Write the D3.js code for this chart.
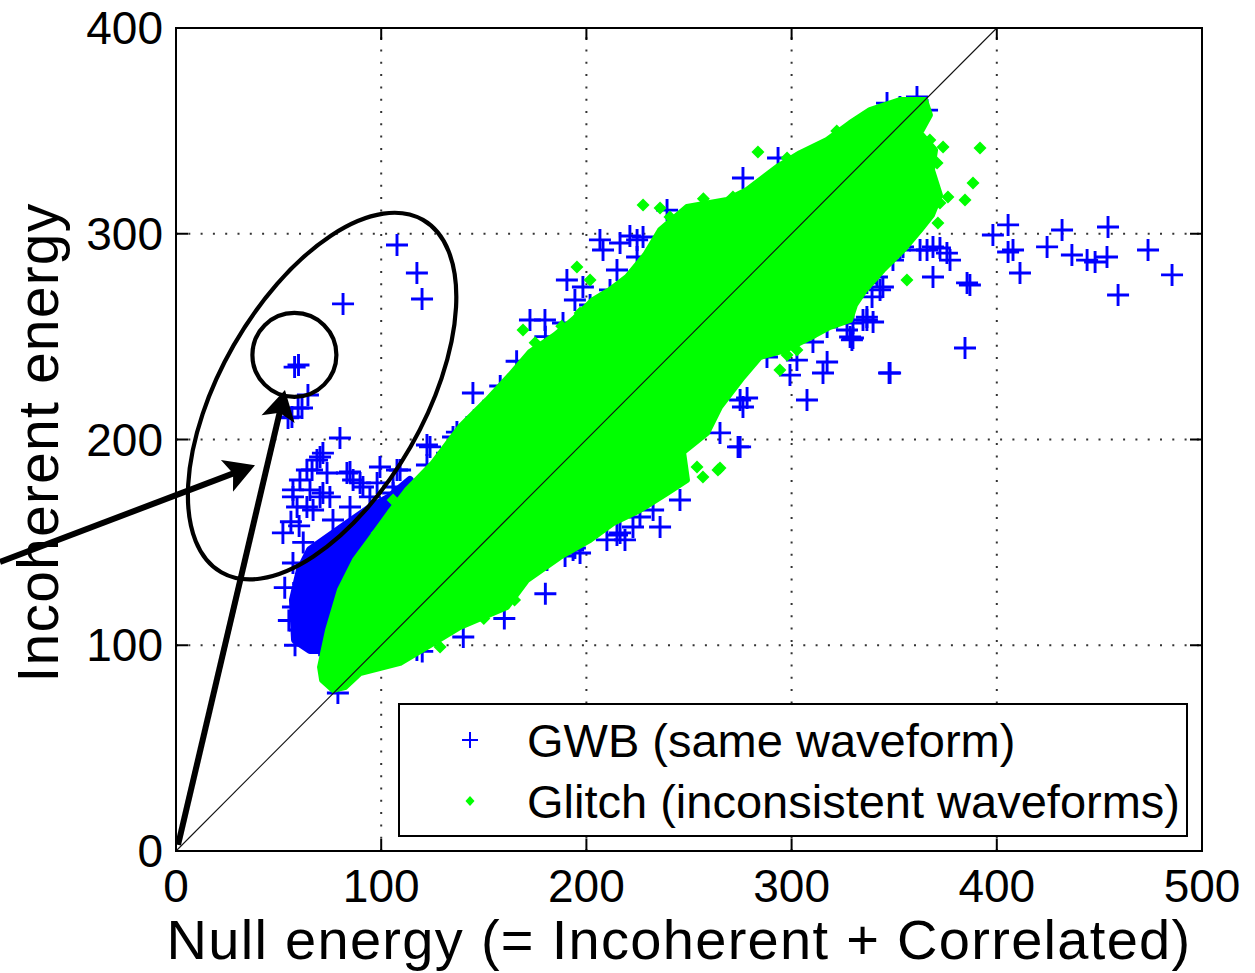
<!DOCTYPE html>
<html>
<head>
<meta charset="utf-8">
<script src="https://cdn.jsdelivr.net/npm/d3@7/dist/d3.min.js"></script>
<style>
  body { margin: 0; background: #fff; }
  text { font-family: "Liberation Sans", Arial, Helvetica, sans-serif; fill: #000; }
</style>
</head>
<body>
<svg id="chart" width="1255" height="973"></svg>
<script>
// ---- axis ticks ----
const xTicks = [0, 100, 200, 300, 400, 500];
const yTicks = [0, 100, 200, 300, 400];
const xLabel = "Null energy (= Incoherent + Correlated)";
const yLabel = "Incoherent energy";
const legendLabels = ["GWB (same waveform)", "Glitch (inconsistent waveforms)"];

// ---- GWB events: [null energy, incoherent energy] ----
const gwbPoints = [
  // upper-left outliers
  [107.7, 294.5], [117.4, 280.9], [119.9, 268.3], [81.4, 265.9], [57.8, 235.2], [59.7, 236.2],
  [64.3, 221.6], [59.5, 215.3], [54.6, 210.5], [56.5, 210.9], [61.4, 215.3], [79.9, 200.7],
  [144.7, 222.6], [136.9, 203.6], [141.8, 206.1], [135.0, 201.2],
  [122.3, 197.3], [122.3, 187.6], [132.1, 193.4], [133.5, 193.4], [123.8, 196.4],
  [99.4, 186.6], [107.7, 185.2], [109.2, 185.2], [71.6, 193.4], [68.7, 190.0], [70.2, 191.5],
  [63.8, 185.2], [66.3, 185.2], [73.6, 183.7], [83.3, 183.7], [84.8, 184.2], [86.3, 180.3],
  [89.7, 178.9], [91.1, 176.9], [98.0, 178.9], [105.8, 174.0], [105.8, 176.9], [94.5, 172.1],
  [57.0, 175.5], [65.3, 175.5], [70.2, 172.1], [75.0, 172.1], [71.6, 174.0], [60.4, 180.3],
  [57.0, 172.1], [59.0, 167.2], [63.8, 167.2], [66.8, 165.7], [52.1, 154.6], [76.5, 160.9],
  [84.8, 167.2], [150.0, 214.0], [158.0, 226.0], [166.0, 238.0],
  // left cluster
  [57.0, 118.6], [60.4, 107.4], [65.3, 106.0], [73.6, 107.4], [78.5, 112.3], [61.9, 126.9],
  [55.0, 112.0], [58.0, 100.0], [62.0, 130.0], [68.0, 118.0], [72.0, 125.0], [57.0, 140.0],
  [62.0, 150.0], [66.0, 138.0], [70.0, 145.0], [53.0, 128.0], [60.0, 158.0], [56.0, 160.0],
  [63.0, 110.0], [70.0, 100.0], [78.9, 76.8], [117.4, 97.7], [120.0, 97.0], [140.0, 104.0],
  // along the top of the band
  [276.3, 327.1], [293.4, 336.8], [190.5, 277.5], [198.3, 274.1], [208.1, 292.1], [216.4, 295.5],
  [224.7, 297.0], [227.6, 298.4], [214.9, 282.4], [224.7, 288.7], [232.5, 285.8], [211.5, 272.7],
  [219.8, 271.2], [203.2, 254.7], [188.6, 256.6], [239.3, 311.5], [300.7, 329.5], [310.4, 332.4],
  [325.0, 344.1], [206.6, 297.0], [221.2, 298.9], [213.9, 267.8], [201.8, 265.4], [194.4, 267.8],
  [179.8, 258.1], [172.5, 258.1], [180.0, 250.0],
  [361.1, 366.5], [352.8, 361.6], [343.1, 356.7], [333.3, 349.0], [366.0, 360.1], [346.5, 363.5],
  // right-hand outliers
  [405.5, 304.3], [398.1, 299.4], [405.5, 291.1], [407.9, 292.1], [411.3, 280.9], [385.5, 276.1],
  [368.9, 279.0], [362.6, 292.1], [368.9, 293.6], [375.7, 290.6], [372.3, 293.1], [377.2, 287.2],
  [352.8, 292.1], [349.4, 287.2], [341.6, 279.0], [343.1, 272.7], [336.7, 276.1], [336.7, 259.5],
  [329.9, 256.6], [328.5, 249.8], [334.8, 258.1], [329.4, 248.4], [339.2, 269.3], [344.5, 274.1],
  [354.3, 293.6], [366.0, 292.1], [384.5, 244.5], [347.5, 232.3], [431.8, 301.8], [424.5, 293.6],
  [436.6, 289.7], [444.0, 287.2], [447.9, 286.3], [453.7, 288.7], [454.2, 303.3], [485.4, 280.0],
  [473.7, 292.1], [459.1, 270.2], [386.9, 275.1],
  // along the lower edge of the band
  [307.5, 219.2], [278.3, 220.2], [276.3, 215.8], [265.1, 203.2], [274.9, 196.4], [245.6, 170.6],
  [235.9, 157.5], [232.5, 165.7], [226.1, 162.3], [222.7, 157.5], [216.4, 154.6], [210.0, 151.2],
  [193.5, 146.3], [180.8, 141.4], [348.0, 232.3], [317.3, 237.7], [315.3, 232.3], [299.2, 231.3],
  [302.6, 238.6], [288.0, 240.1], [274.9, 219.2], [273.9, 196.4], [327.0, 253.2], [329.9, 249.3],
  [336.7, 258.1], [339.7, 257.1], [310.4, 247.4], [317.3, 254.7], [323.6, 262.9],
  [214.9, 153.6], [218.8, 151.2], [194.4, 147.3], [196.9, 144.8], [189.6, 143.4],
  [160.0, 113.0], [180.0, 125.0]
];

// dense GWB patch left of the glitch band (outline)
const gwbDenseOutline = [
  [58.0, 102.6], [57.0, 122.0], [60.4, 136.6], [65.3, 146.3], [73.6, 152.1], [83.3, 158.9],
  [94.5, 166.7], [104.3, 172.1], [114.0, 180.3], [99.4, 141.4], [82.4, 112.3], [75.0, 97.7],
  [65.3, 97.7]
];

// dense core of the glitch events (outline)
const glitchOutline = [
  [76.5, 78.3], [71.2, 83.1], [70.2, 89.4], [74.1, 107.4], [79.9, 126.9], [87.2, 141.4],
  [94.5, 151.2], [104.3, 164.8], [112.6, 175.5], [125.2, 188.6], [138.4, 206.1], [151.6, 219.2],
  [162.8, 231.3], [172.5, 242.5], [184.7, 250.8], [194.4, 259.1], [203.2, 267.8], [211.5, 272.7],
  [219.8, 279.0], [228.6, 289.7], [235.9, 301.8], [249.0, 313.0], [268.5, 316.4], [278.3, 321.3],
  [292.9, 332.4], [304.1, 339.2], [317.3, 345.6], [328.5, 353.8], [338.2, 360.1], [352.8, 365.0],
  [365.0, 365.0], [367.4, 357.7], [362.6, 349.0], [369.9, 340.7], [368.4, 331.0], [372.3, 318.8],
  [368.4, 309.1], [362.6, 301.8], [355.3, 293.1], [344.5, 282.4], [335.8, 272.7], [330.9, 265.4],
  [328.5, 258.1], [318.7, 254.7], [311.4, 250.8], [296.8, 243.5], [284.6, 240.1], [276.3, 230.4],
  [265.1, 215.8], [258.8, 203.2], [247.1, 193.9], [249.0, 180.3], [239.3, 174.0], [226.1, 165.7],
  [213.0, 159.4], [201.8, 151.2], [187.1, 142.9], [171.1, 131.7], [161.3, 118.6], [138.4, 108.9],
  [122.3, 99.2], [109.2, 91.4], [89.7, 86.5], [82.4, 79.7]
];

// scattered glitch events at the fringe of the band
const glitchPoints = [
  [391.8, 341.7], [388.4, 324.7], [384.5, 316.4], [376.2, 317.9], [372.3, 314.9], [371.3, 305.2],
  [373.8, 342.2], [367.4, 345.6], [370.9, 334.4], [356.2, 277.5], [297.8, 241.1], [302.6, 243.5],
  [294.3, 233.8], [264.1, 185.2], [256.8, 181.8], [253.9, 186.6], [265.1, 186.1], [227.6, 314.0],
  [235.9, 312.5], [240.7, 308.1], [271.4, 317.9], [283.6, 339.7], [297.8, 336.8], [309.0, 339.2],
  [315.3, 342.2], [195.4, 283.8], [201.8, 277.5], [196.9, 261.5], [169.1, 253.2], [101.9, 157.5],
  [105.8, 170.6], [143.3, 209.5], [153.0, 217.7], [98.0, 154.6], [94.5, 147.8], [128.7, 99.2],
  [165.0, 122.0], [150.0, 113.0], [175.0, 247.0], [188.0, 255.0], [257.0, 317.0], [322.0, 350.0]
];

// annotation shapes, positioned in data units
const bigEllipse = { center: [71.2, 221.1], rx: 102, ry: 203, angle: 29.8 };
const smallCircle = { center: [57.7, 241.1], r: 42 };
const arrows = [
  { from: [1.0, 3.0], to: [53.1, 224.1] },
  { from: [-85.8, 140.5], to: [38.5, 187.5] }
];

// ---- layout ----
const svg = d3.select("#chart");
const W = 1255, H = 973;
const plot = { left: 176, right: 1202, top: 28, bottom: 851 };

const x = d3.scaleLinear().domain([0, 500]).range([plot.left, plot.right]);
const y = d3.scaleLinear().domain([0, 400]).range([plot.bottom, plot.top]);

svg.append("rect").attr("width", W).attr("height", H).attr("fill", "#fff");

// dotted grid
const grid = svg.append("g").attr("stroke", "#333").attr("stroke-width", 2)
  .attr("stroke-dasharray", "2 10.3").attr("fill", "none");
grid.selectAll("line.vx").data(xTicks.filter(d => d > 0 && d < 500)).join("line")
  .attr("x1", d => x(d)).attr("x2", d => x(d)).attr("y1", plot.bottom).attr("y2", plot.top);
grid.selectAll("line.hy").data(yTicks.filter(d => d > 0 && d < 400)).join("line")
  .attr("y1", d => y(d)).attr("y2", d => y(d)).attr("x1", plot.left).attr("x2", plot.right);

// GWB markers (plotted first, underneath the glitches)
const crossPath = "M-11,0H11M0,-11V11";
svg.append("path")
  .attr("d", d3.line().x(d => x(d[0])).y(d => y(d[1]))(gwbDenseOutline) + "Z")
  .attr("fill", "#0000ff").attr("stroke", "#0000ff").attr("stroke-width", 8)
  .attr("stroke-linejoin", "round");
svg.append("g").selectAll("path").data(gwbPoints).join("path")
  .attr("transform", d => `translate(${x(d[0])},${y(d[1])})`)
  .attr("d", crossPath).attr("stroke", "#0000ff").attr("stroke-width", 2.9).attr("fill", "none");

// glitch markers
svg.append("path")
  .attr("d", d3.line().x(d => x(d[0])).y(d => y(d[1]))(glitchOutline) + "Z")
  .attr("fill", "#00ff00").attr("stroke", "#00ff00").attr("stroke-width", 6)
  .attr("stroke-linejoin", "round");
const diamondPath = "M0,-6.5L6.5,0L0,6.5L-6.5,0Z";
svg.append("g").selectAll("path").data(glitchPoints).join("path")
  .attr("transform", d => `translate(${x(d[0])},${y(d[1])})`)
  .attr("d", diamondPath).attr("fill", "#00ff00");

// identity line
svg.append("line")
  .attr("x1", x(0)).attr("y1", y(0)).attr("x2", x(400)).attr("y2", y(400))
  .attr("stroke", "#111").attr("stroke-width", 1.1);

// axes box and inward ticks on all four sides
const axes = svg.append("g").attr("stroke", "#000").attr("stroke-width", 2);
axes.append("rect").attr("x", plot.left).attr("y", plot.top)
  .attr("width", plot.right - plot.left).attr("height", plot.bottom - plot.top).attr("fill", "none");
const tl = 12;
xTicks.forEach(t => {
  axes.append("line").attr("x1", x(t)).attr("x2", x(t)).attr("y1", plot.bottom).attr("y2", plot.bottom - tl);
  axes.append("line").attr("x1", x(t)).attr("x2", x(t)).attr("y1", plot.top).attr("y2", plot.top + tl);
});
yTicks.forEach(t => {
  axes.append("line").attr("y1", y(t)).attr("y2", y(t)).attr("x1", plot.left).attr("x2", plot.left + tl);
  axes.append("line").attr("y1", y(t)).attr("y2", y(t)).attr("x1", plot.right).attr("x2", plot.right - tl);
});

// tick labels
svg.append("g").selectAll("text").data(xTicks).join("text")
  .attr("x", d => x(d)).attr("y", plot.bottom + 51)
  .attr("text-anchor", "middle").attr("font-size", 46).text(d => d);
svg.append("g").selectAll("text").data(yTicks).join("text")
  .attr("x", plot.left - 13).attr("y", d => y(d) + 16)
  .attr("text-anchor", "end").attr("font-size", 46).text(d => d);

// axis labels
svg.append("text").attr("x", (plot.left + plot.right) / 2 - 10).attr("y", 959)
  .attr("text-anchor", "middle").attr("font-size", 56).attr("letter-spacing", 1.3).text(xLabel);
svg.append("text").attr("transform", `translate(58,${(plot.top + plot.bottom) / 2 + 3}) rotate(-90)`)
  .attr("text-anchor", "middle").attr("font-size", 57).attr("letter-spacing", 1.2).text(yLabel);

// legend
const lg = svg.append("g");
lg.append("rect").attr("x", 399).attr("y", 704).attr("width", 788).attr("height", 132)
  .attr("fill", "#fff").attr("stroke", "#000").attr("stroke-width", 2);
lg.append("path").attr("transform", "translate(470,740)").attr("d", "M-8,0H8M0,-8V8")
  .attr("stroke", "#0000ff").attr("stroke-width", 2).attr("fill", "none");
lg.append("path").attr("transform", "translate(470,801)").attr("d", "M0,-5L4.5,0L0,5L-4.5,0Z")
  .attr("fill", "#00ff00");
lg.selectAll("text").data(legendLabels).join("text")
  .attr("x", 527).attr("y", (d, i) => 757 + i * 61)
  .attr("font-size", 47).text(d => d);

// annotations: ellipse, circle and arrows
const ann = svg.append("g").attr("fill", "none").attr("stroke", "#000");
ann.append("ellipse")
  .attr("cx", x(bigEllipse.center[0])).attr("cy", y(bigEllipse.center[1]))
  .attr("rx", bigEllipse.rx).attr("ry", bigEllipse.ry)
  .attr("transform", `rotate(${bigEllipse.angle},${x(bigEllipse.center[0])},${y(bigEllipse.center[1])})`)
  .attr("stroke-width", 4.2);
ann.append("circle")
  .attr("cx", x(smallCircle.center[0])).attr("cy", y(smallCircle.center[1]))
  .attr("r", smallCircle.r).attr("stroke-width", 4.2);

arrows.forEach(a => {
  const x0 = x(a.from[0]), y0 = y(a.from[1]);
  const x1 = x(a.to[0]), y1 = y(a.to[1]);
  const len = Math.hypot(x1 - x0, y1 - y0);
  const ux = (x1 - x0) / len, uy = (y1 - y0) / len;
  const px = -uy, py = ux;
  const L = 30, Wd = 17;
  const bx = x1 - ux * L, by = y1 - uy * L;
  ann.append("line").attr("x1", x0).attr("y1", y0)
    .attr("x2", x1 - ux * L * 0.7).attr("y2", y1 - uy * L * 0.7)
    .attr("stroke-width", 6);
  svg.append("path")
    .attr("d", `M${x1},${y1}L${bx + px * Wd},${by + py * Wd}L${x1 - ux * L * 0.78},${y1 - uy * L * 0.78}L${bx - px * Wd},${by - py * Wd}Z`)
    .attr("fill", "#000");
});
</script>
</body>
</html>
